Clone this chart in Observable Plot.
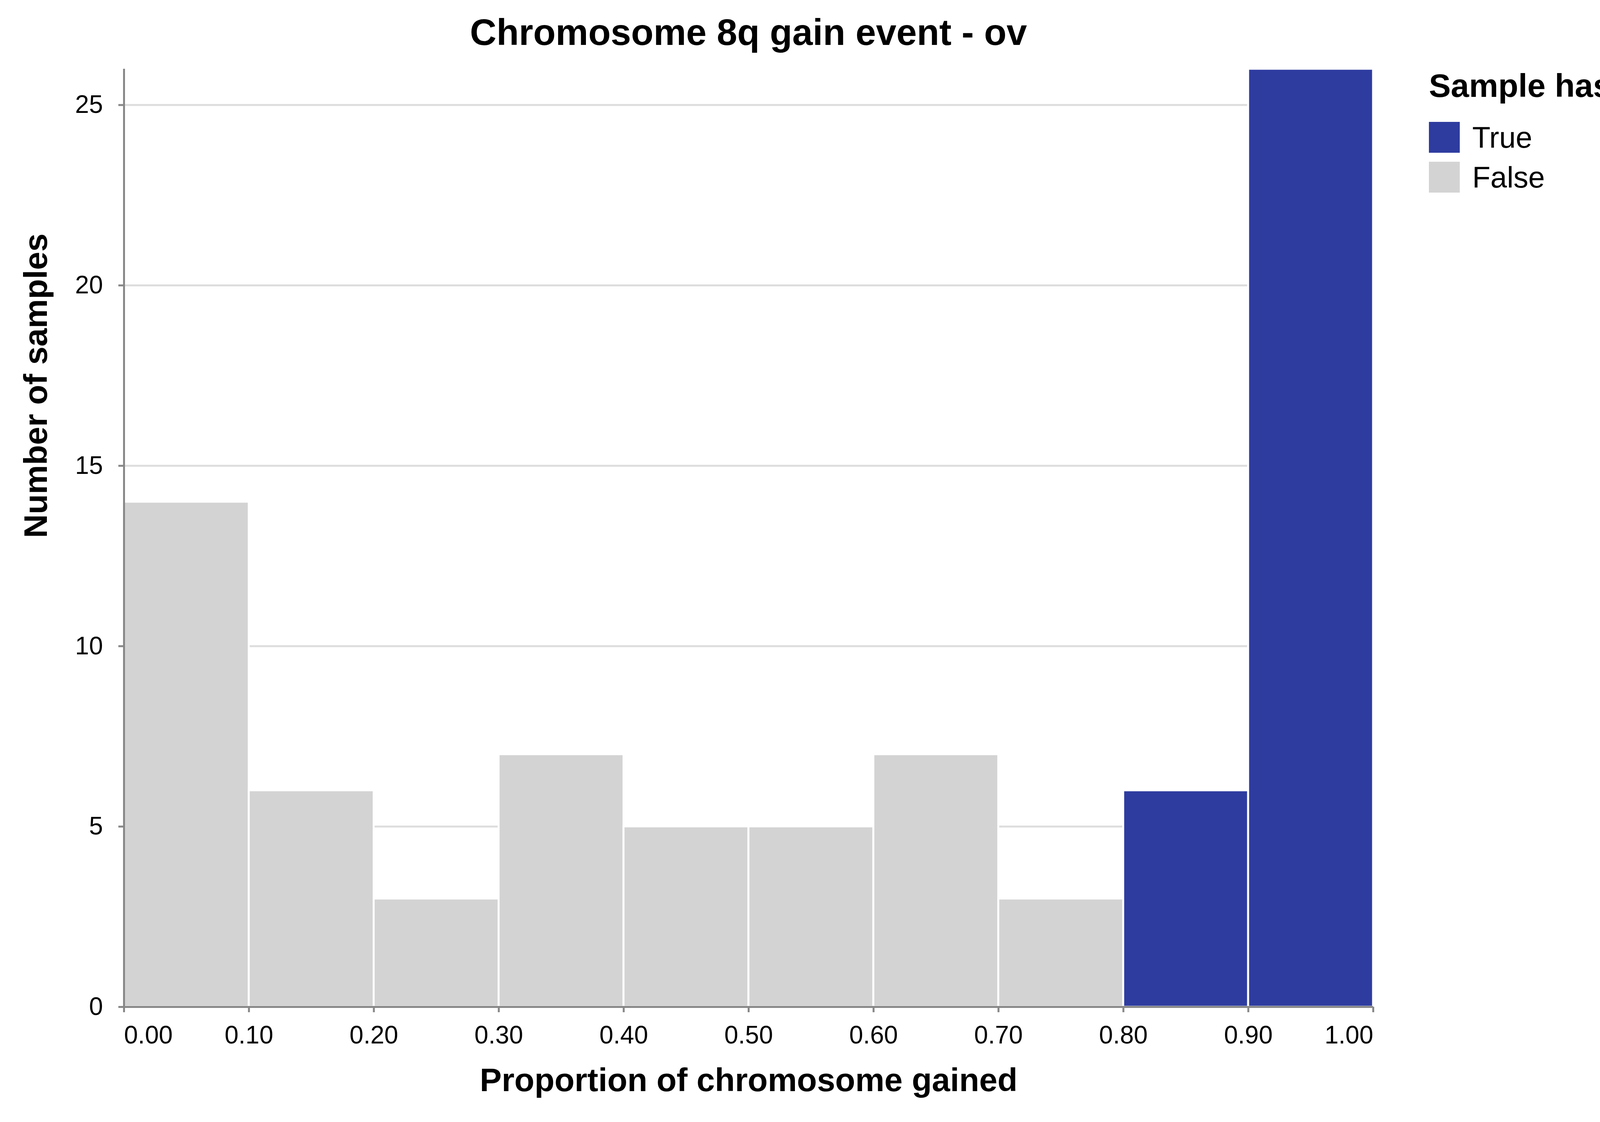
<!DOCTYPE html>
<html><head><meta charset="utf-8">
<script src="https://cdn.jsdelivr.net/npm/d3@7"></script>
<script src="https://cdn.jsdelivr.net/npm/@observablehq/plot@0.6"></script>
<style>
body{margin:0;background:#fff;font-family:"Liberation Sans",Arial,sans-serif}
#wrap{position:relative;width:4440px;height:2872px}
#title{position:absolute;top:28px;left:0;width:3832px;text-align:center;font-weight:bold;font-size:94px;line-height:110px}
#legend{position:absolute;left:3658px;top:170px;font-size:76px}
#legend .h{font-weight:bold;font-size:84px;line-height:99px;margin-bottom:31px}
#legend .r{display:flex;align-items:center;height:102px}
#legend .s{width:79px;height:79px;margin-right:32px}
</style></head>
<body><div id="wrap"><div id="title">Chromosome 8q gain event - ov</div><div id="legend"></div><div id="chart"></div></div>
<script>
const binStart = [0.0,0.1,0.2,0.3,0.4,0.5,0.6,0.7,0.8,0.9]
const counts = [14,6,3,7,5,5,7,3,6,26]
const hasEvent = ["False","False","False","False","False","False","False","False","True","True"]
const xTicks = [0,0.1,0.2,0.3,0.4,0.5,0.6,0.7,0.8,0.9,1.0]
const yTicks = [0,5,10,15,20,25]
const colors = {True:'#2e3ca0', False:'#d3d3d3'}

const data = binStart.map((b,i) => ({x1:b, x2:b+0.1, y:counts[i], ev:hasEvent[i]}))
const mid = xTicks.slice(1,-1)
const fs = 64

let chart = Plot.plot({
  width:4440, height:2872,
  marginLeft:317, marginRight:925, marginTop:176, marginBottom:295,
  x:{domain:[0,1]},
  y:{domain:[0,26]},
  style:{fontFamily:'Liberation Sans, Arial, sans-serif', fontSize:fs, color:'#000'},
  marks:[
    Plot.gridY(yTicks, {stroke:'#ddd', strokeOpacity:1, strokeWidth:5}),
    Plot.rectY(data, {x1:'x1', x2:'x2', y:'y', fill:d => colors[d.ev], stroke:'#fff', strokeWidth:5, clip:true}),
    Plot.ruleX([0], {stroke:'#888', strokeWidth:5}),
    Plot.ruleY([0], {stroke:'#888', strokeWidth:5}),
    Plot.axisY(yTicks, {tickSize:14, tickPadding:40, stroke:'#888', strokeWidth:5, fontSize:fs, tickFormat:'d', label:null}),
    Plot.axisX(xTicks, {tickSize:14, stroke:'#888', strokeWidth:5, text:null, label:null}),
    Plot.text(mid, {x:d=>d, frameAnchor:'bottom', dy:93, text:d=>d.toFixed(2), fontSize:fs}),
    Plot.text([0], {x:d=>d, frameAnchor:'bottom', dy:93, text:d=>d.toFixed(2), textAnchor:'start', fontSize:fs}),
    Plot.text([1], {x:d=>d, frameAnchor:'bottom', dy:93, text:d=>d.toFixed(2), textAnchor:'end', fontSize:fs}),
    Plot.text(['Proportion of chromosome gained'], {frameAnchor:'bottom', dy:215, fontWeight:'bold', fontSize:84}),
    Plot.text(['Number of samples'], {frameAnchor:'left', dx:-224, rotate:-90, fontWeight:'bold', fontSize:84})
  ]
})
d3.select('#chart').append(() => chart)

const lg = d3.select('#legend')
lg.append('div').attr('class','h').text('Sample has event')
;['True','False'].forEach(k => {
  const r = lg.append('div').attr('class','r')
  r.append('div').attr('class','s').style('background', colors[k])
  r.append('span').text(k)
})
</script></body></html>
